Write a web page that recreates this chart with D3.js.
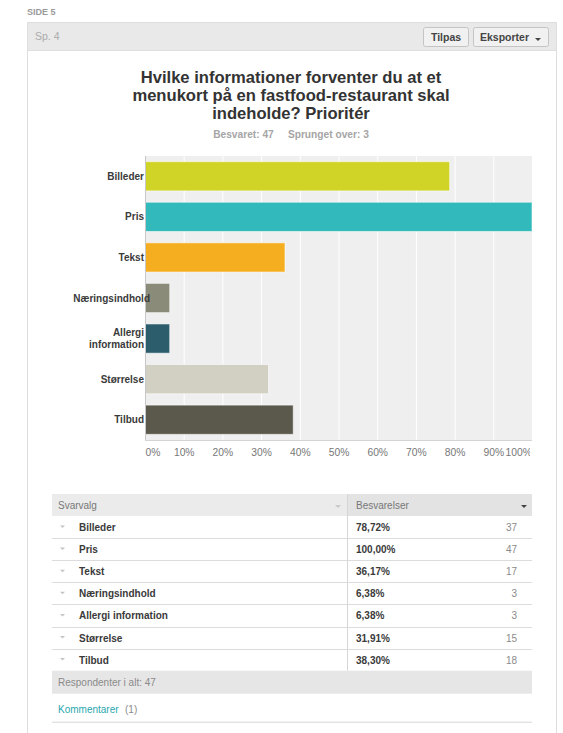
<!DOCTYPE html>
<html>
<head>
<meta charset="utf-8">
<script src="https://cdn.jsdelivr.net/npm/d3@7"></script>
<style>
  html, body { margin: 0; padding: 0; background: #fff; }
  svg { display: block; font-family: "Liberation Sans", Arial, Helvetica, sans-serif; }
</style>
</head>
<body>
<svg id="page" width="563" height="733"></svg>
<script>
// Survey answers: one entry per answer option
const categories = ["Billeder", "Pris", "Tekst", "Næringsindhold", "Allergi information", "Størrelse", "Tilbud"];
const axisLabels = [["Billeder"], ["Pris"], ["Tekst"], ["Næringsindhold"], ["Allergi", "information"], ["Størrelse"], ["Tilbud"]];
const percents = [78.72, 100.00, 36.17, 6.38, 6.38, 31.91, 38.30];
const counts = [37, 47, 17, 3, 3, 15, 18];
const barColors = ["#cfd426", "#32b9bb", "#f6ae21", "#8b8b79", "#2c5d6c", "#d1d0c2", "#5b594c"];
const tickValues = [0, 10, 20, 30, 40, 50, 60, 70, 80, 90, 100];
const titleLines = ["Hvilke informationer forventer du at et", "menukort på en fastfood-restaurant skal", "indeholde? Prioritér"];
const answered = 47, skipped = 3;

const svg = d3.select("#page");

// ---- page heading + panel frame ----
svg.append("text").attr("x", 27).attr("y", 15)
  .attr("font-size", 9).attr("font-weight", "bold").attr("fill", "#9a9a9a").text("SIDE 5");

const panel = { x: 27.5, y: 22.5, w: 529, h: 720 };
svg.append("rect").attr("x", panel.x).attr("y", panel.y).attr("width", panel.w).attr("height", panel.h)
  .attr("fill", "#fff").attr("stroke", "#dedede");
svg.append("rect").attr("x", panel.x).attr("y", panel.y).attr("width", panel.w).attr("height", 28)
  .attr("fill", "#e9e9e9").attr("stroke", "#dedede");
svg.append("text").attr("x", 35).attr("y", 40)
  .attr("font-size", 10.5).attr("fill", "#aaaaaa").text("Sp. 4");

// header buttons
const buttons = [{ x: 423.5, w: 45 }, { x: 473.5, w: 75 }];
buttons.forEach(b => {
  svg.append("rect").attr("x", b.x).attr("y", 27.5).attr("width", b.w).attr("height", 19).attr("rx", 2)
    .attr("fill", "#f1f1f1").attr("stroke", "#c4c4c4");
});
svg.append("text").attr("x", 446).attr("y", 41).attr("text-anchor", "middle")
  .attr("font-size", 10.5).attr("font-weight", "bold").attr("fill", "#444").text("Tilpas");
svg.append("text").attr("x", 480).attr("y", 41)
  .attr("font-size", 10.5).attr("font-weight", "bold").attr("fill", "#444").text("Eksporter");
svg.append("path").attr("d", "M535,38 L541,38 L538,41 Z").attr("fill", "#444");

// ---- question title ----
const titleX = 291;
titleLines.forEach((t, i) => {
  svg.append("text").attr("x", titleX).attr("y", 83 + i * 18).attr("text-anchor", "middle")
    .attr("font-size", 16.6).attr("font-weight", "bold").attr("fill", "#333").text(t);
});
svg.append("text").attr("x", titleX).attr("y", 138).attr("text-anchor", "middle")
  .attr("font-size", 10.2).attr("font-weight", "bold").attr("fill", "#a5a5a5")
  .attr("xml:space", "preserve")
  .text(`Besvaret: ${answered}     Sprunget over: ${skipped}`);

// ---- bar chart ----
const plot = { left: 145, right: 532, top: 156, bottom: 440 };
const x = d3.scaleLinear().domain([0, 100]).range([plot.left, plot.right]);
const y = d3.scaleBand().domain(categories).range([plot.top, plot.bottom]).paddingInner(0.28).paddingOuter(0.14);

const chart = svg.append("g");
chart.append("rect").attr("x", plot.left).attr("y", plot.top)
  .attr("width", plot.right - plot.left).attr("height", plot.bottom - plot.top).attr("fill", "#efefef");

// vertical grid
chart.selectAll("line.grid").data(tickValues.slice(1)).join("line").attr("class", "grid")
  .attr("x1", d => x(d) + 0.5).attr("x2", d => x(d) + 0.5)
  .attr("y1", plot.top).attr("y2", plot.bottom)
  .attr("stroke", "#ffffff").attr("stroke-width", 1);

// bars
chart.selectAll("rect.bar").data(categories).join("rect").attr("class", "bar")
  .attr("x", x(0)).attr("y", d => y(d))
  .attr("width", (d, i) => x(percents[i]) - x(0)).attr("height", y.bandwidth())
  .attr("fill", (d, i) => barColors[i])
  .attr("stroke", "rgba(255,255,255,0.55)").attr("stroke-width", 1);

// axis lines
chart.append("line").attr("x1", plot.left).attr("x2", plot.right).attr("y1", plot.bottom + 0.5).attr("y2", plot.bottom + 0.5)
  .attr("stroke", "#d4d4d4");
chart.append("line").attr("x1", plot.left + 0.5).attr("x2", plot.left + 0.5).attr("y1", plot.top).attr("y2", plot.bottom)
  .attr("stroke", "#c8c8c8");

// x axis labels (last one runs past the plot edge and is cut off there)
svg.append("defs").append("clipPath").attr("id", "axisClip")
  .append("rect").attr("x", 130).attr("y", 0).attr("width", plot.right - 2 - 130).attr("height", 30);
const xAxis = d3.axisBottom(x).tickValues(tickValues).tickFormat(d => d + "%").tickSize(0).tickPadding(9);
const gx = svg.append("g").attr("transform", `translate(0,${plot.bottom})`).attr("clip-path", "url(#axisClip)").call(xAxis);
gx.select(".domain").remove();
gx.selectAll("text").attr("font-family", "inherit").attr("font-size", 10.3).attr("fill", "#777");
gx.selectAll(".tick").filter(d => d === 0).select("text").attr("text-anchor", "start").attr("x", 0);
gx.selectAll(".tick").filter(d => d === 100).select("text").attr("text-anchor", "start").attr("x", -27);

// category labels
chart.selectAll("text.cat").data(categories).join("text").attr("class", "cat")
  .attr("text-anchor", "end").attr("font-size", 10).attr("font-weight", "bold").attr("fill", "#3a3a3a")
  .each(function (d, i) {
    const lines = axisLabels[i];
    const cy = y(d) + y.bandwidth() / 2;
    const t = d3.select(this);
    const right = lines[0].length > 10 ? plot.left + 5 : plot.left - 1;
    lines.forEach((ln, j) => {
      t.append("tspan").attr("x", right)
        .attr("y", cy + 3.5 + (j - (lines.length - 1) / 2) * 12).text(ln);
    });
  });

// ---- response table ----
const tbl = { left: 52, right: 532, split: 347, top: 494, head: 22, row: 22.1 };
svg.append("rect").attr("x", tbl.left).attr("y", tbl.top).attr("width", tbl.split - tbl.left).attr("height", tbl.head).attr("fill", "#ebebeb");
svg.append("rect").attr("x", tbl.split).attr("y", tbl.top).attr("width", tbl.right - tbl.split).attr("height", tbl.head).attr("fill", "#e3e3e3");
svg.append("text").attr("x", 58).attr("y", tbl.top + 15).attr("font-size", 10).attr("fill", "#777").text("Svarvalg");
svg.append("text").attr("x", 356).attr("y", tbl.top + 15).attr("font-size", 10).attr("fill", "#777").text("Besvarelser");
svg.append("path").attr("d", `M335,${tbl.top + 11} L341,${tbl.top + 11} L338,${tbl.top + 14} Z`).attr("fill", "#c9c9c9");
svg.append("path").attr("d", `M521,${tbl.top + 11} L527,${tbl.top + 11} L524,${tbl.top + 14} Z`).attr("fill", "#444");

const rowY = i => tbl.top + tbl.head + i * tbl.row;
const rows = svg.append("g").selectAll("g").data(categories).join("g");
rows.append("line").attr("x1", tbl.left).attr("x2", tbl.right)
  .attr("y1", (d, i) => Math.round(rowY(i + 1)) + 0.5).attr("y2", (d, i) => Math.round(rowY(i + 1)) + 0.5)
  .attr("stroke", "#dcdcdc");
rows.append("path").attr("d", (d, i) => { const c = rowY(i) + 11; return `M60,${c - 1.5} L65,${c - 1.5} L62.5,${c + 1} Z`; })
  .attr("fill", "#c4c4c4");
rows.append("text").attr("x", 79).attr("y", (d, i) => rowY(i) + 15)
  .attr("font-size", 10).attr("font-weight", "bold").attr("fill", "#3a3a3a").text(d => d);
rows.append("text").attr("x", 356).attr("y", (d, i) => rowY(i) + 15)
  .attr("font-size", 10).attr("font-weight", "bold").attr("fill", "#3a3a3a")
  .text((d, i) => percents[i].toFixed(2).replace(".", ",") + "%");
rows.append("text").attr("x", 517).attr("y", (d, i) => rowY(i) + 15).attr("text-anchor", "end")
  .attr("font-size", 10).attr("fill", "#8a8a8a").text((d, i) => counts[i]);

// column divider
svg.append("line").attr("x1", tbl.split + 0.5).attr("x2", tbl.split + 0.5)
  .attr("y1", tbl.top).attr("y2", rowY(categories.length)).attr("stroke", "#d6d6d6");

// total respondents + comments
const footY = rowY(categories.length);
svg.append("rect").attr("x", tbl.left).attr("y", footY).attr("width", tbl.right - tbl.left).attr("height", 23).attr("fill", "#e6e6e6");
svg.append("text").attr("x", 58).attr("y", footY + 15).attr("font-size", 10).attr("fill", "#8a8a8a")
  .text(`Respondenter i alt: ${answered}`);
svg.append("text").attr("x", 58).attr("y", footY + 42).attr("font-size", 10).attr("fill", "#2aa6b0").text("Kommentarer");
svg.append("text").attr("x", 125).attr("y", footY + 42).attr("font-size", 10).attr("fill", "#8a8a8a").text("(1)");
svg.append("line").attr("x1", tbl.left).attr("x2", tbl.right).attr("y1", footY + 51.5).attr("y2", footY + 51.5).attr("stroke", "#d6d6d6");
</script>
</body>
</html>
